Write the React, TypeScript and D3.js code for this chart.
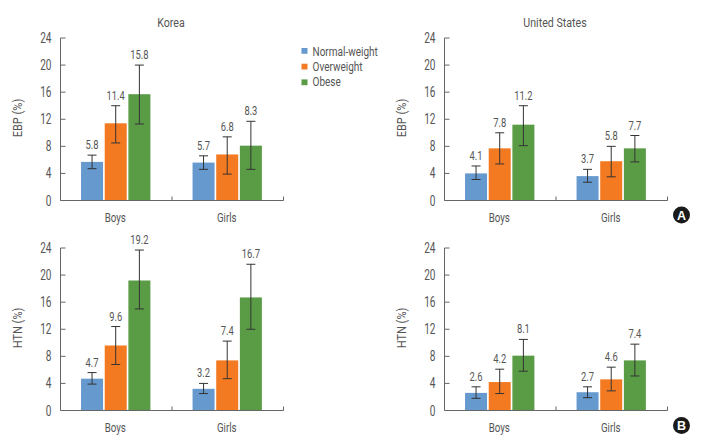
import React from "react";
import * as d3 from "d3";

const groups = ["Boys", "Girls"];
const weightClasses = ["Normal-weight", "Overweight", "Obese"];
const colors = ["#6699CE", "#F47A22", "#5A9C46"];
const yTicks = [0, 4, 8, 12, 16, 20, 24];

const koreaEbp = [[5.8, 11.4, 15.8], [5.7, 6.8, 8.3]];
const koreaEbpLow = [[4.7, 8.5, 11.3], [4.6, 3.9, 4.6]];
const koreaEbpHigh = [[6.7, 14, 20], [6.6, 9.4, 11.7]];
const koreaEbpBars = [[5.7, 11.4, 15.7], [5.6, 6.8, 8.1]];

const usEbp = [[4.1, 7.8, 11.2], [3.7, 5.8, 7.7]];
const usEbpLow = [[3.1, 5.4, 8.1], [2.7, 3.5, 5.7]];
const usEbpHigh = [[5.1, 10, 14], [4.6, 8, 9.6]];
const usEbpBars = [[4.0, 7.7, 11.2], [3.6, 5.8, 7.7]];

const koreaHtn = [[4.7, 9.6, 19.2], [3.2, 7.4, 16.7]];
const koreaHtnLow = [[3.9, 6.8, 15], [2.5, 4.7, 12]];
const koreaHtnHigh = [[5.6, 12.4, 23.7], [4, 10.25, 21.6]];

const usHtn = [[2.6, 4.2, 8.1], [2.7, 4.6, 7.4]];
const usHtnLow = [[1.8, 2.5, 5.8], [1.9, 2.9, 5.1]];
const usHtnHigh = [[3.5, 6.1, 10.5], [3.5, 6.4, 9.8]];

const TEXT = "#555";
const AXIS = "#666";
const FONT = "Roboto, sans-serif";

function T({ x, y, rotate = 0, sx = 0.75, size = 13, anchor = "middle", children }: any) {
  return (
    <text
      transform={`translate(${x},${y}) rotate(${rotate}) scale(${sx},1)`}
      textAnchor={anchor}
      fontSize={size}
      fontFamily={FONT}
      fill={TEXT}
    >
      {children}
    </text>
  );
}

function Panel({ left, top, yLabel, title, labels, bars, low, high }: any) {
  const y = d3.scaleLinear().domain([0, 24]).range([top + 162.5, top]);
  const x = d3.scaleBand().domain(groups).range([left, left + 223]);
  const inner = d3.scaleBand().domain(weightClasses).range([0, 71]);
  const barW = 22;
  return (
    <g>
      {title && <T x={left + 110.5} y={top - 11} sx={0.82}>{title}</T>}
      <T x={left - 38.5} y={top + 80} rotate={-90} sx={0.85}>{yLabel}</T>
      {groups.map((g, gi) => {
        const gx = (x(g) as number) + (x.bandwidth() - 71) / 2 + 0.3;
        return (
          <g key={g}>
            {weightClasses.map((w, wi) => {
              const bx = gx + (inner(w) as number);
              const cx = bx + barW / 2;
              const v = bars[gi][wi];
              return (
                <g key={w}>
                  <rect x={bx} y={y(v)} width={barW} height={y(0) - y(v)} fill={colors[wi]} />
                  <line x1={cx} x2={cx} y1={y(high[gi][wi])} y2={y(low[gi][wi])} stroke="#333" strokeWidth={1} />
                  <line x1={cx - 4.5} x2={cx + 4.5} y1={y(high[gi][wi])} y2={y(high[gi][wi])} stroke="#333" strokeWidth={1} />
                  <line x1={cx - 4.5} x2={cx + 4.5} y1={y(low[gi][wi])} y2={y(low[gi][wi])} stroke="#333" strokeWidth={1} />
                  <T x={cx} y={y(high[gi][wi]) - 6} size={12.5}>{labels[gi][wi].toFixed(1)}</T>
                </g>
              );
            })}
            <T x={(x(g) as number) + x.bandwidth() / 2 - 1} y={top + 184}>{g}</T>
            <line
              x1={(x(g) as number) + x.bandwidth()}
              x2={(x(g) as number) + x.bandwidth()}
              y1={y(0)}
              y2={y(0) - 4}
              stroke={AXIS}
            />
          </g>
        );
      })}
      <line x1={left} x2={left} y1={y(24)} y2={y(0)} stroke={AXIS} />
      <line x1={left} x2={left + 223} y1={y(0)} y2={y(0)} stroke={AXIS} />
      {yTicks.map((t) => (
        <g key={t}>
          <line x1={left} x2={left + 5} y1={y(t)} y2={y(t)} stroke={AXIS} />
          <T x={left - 9} y={y(t) + 5} size={14} sx={0.72} anchor="end">{t}</T>
        </g>
      ))}
    </g>
  );
}

function Badge({ cx, cy, label }: any) {
  return (
    <g>
      <circle cx={cx} cy={cy} r={8.5} fill="#1a1a1a" />
      <text x={cx} y={cy + 4.5} textAnchor="middle" fontSize={12.5} fontWeight="bold" fontFamily="'Liberation Sans', sans-serif" fill="#fff">
        {label}
      </text>
    </g>
  );
}

export default function App() {
  return (
    <svg width={712} height={446} style={{ position: "absolute", left: 0, top: 0, background: "#fff" }}>
      <Panel left={60.5} top={38} title="Korea" yLabel="EBP (%)" labels={koreaEbp} bars={koreaEbpBars} low={koreaEbpLow} high={koreaEbpHigh} />
      <Panel left={444.5} top={38} title="United States" yLabel="EBP (%)" labels={usEbp} bars={usEbpBars} low={usEbpLow} high={usEbpHigh} />
      <Panel left={60.5} top={248} yLabel="HTN (%)" labels={koreaHtn} bars={koreaHtn} low={koreaHtnLow} high={koreaHtnHigh} />
      <Panel left={444.5} top={248} yLabel="HTN (%)" labels={usHtn} bars={usHtn} low={usHtnLow} high={usHtnHigh} />
      {weightClasses.map((w, i) => (
        <g key={w}>
          <rect x={301.5} y={48 + i * 15.7} width={6} height={5.8} fill={colors[i]} />
          <T x={312.5} y={56 + i * 15.2} sx={0.77} anchor="start">{w}</T>
        </g>
      ))}
      <Badge cx={681.5} cy={215} label="A" />
      <Badge cx={681.5} cy={425.5} label="B" />
    </svg>
  );
}
